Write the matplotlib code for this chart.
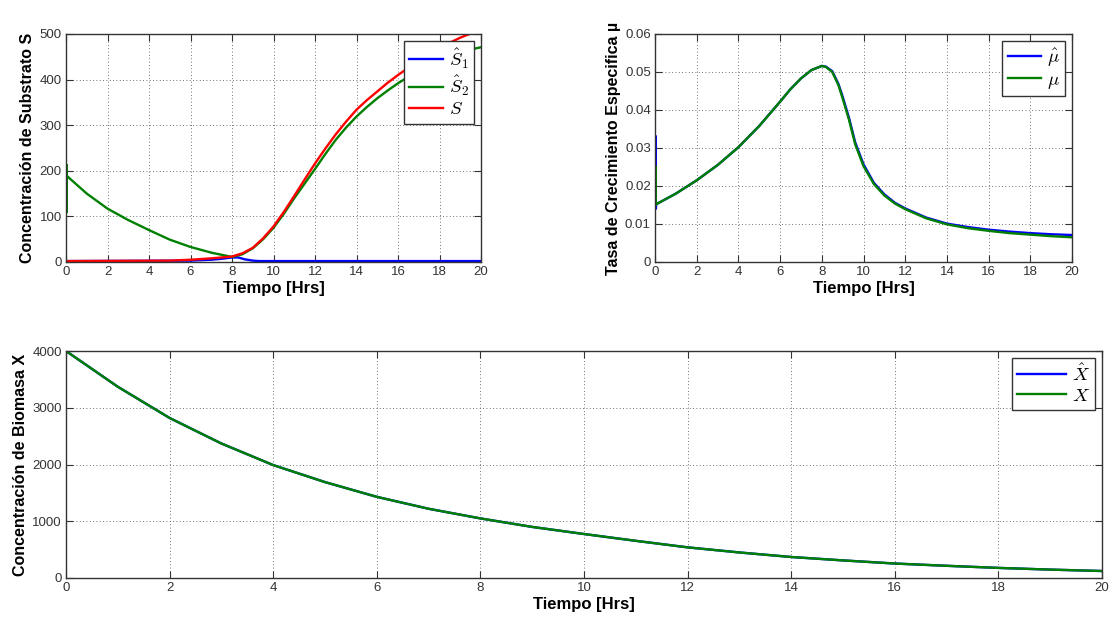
import numpy as np
import matplotlib
matplotlib.use("Agg")
import matplotlib.pyplot as plt

plt.rcParams['font.family'] = ['Liberation Sans', 'DejaVu Sans']
plt.rcParams['mathtext.fontset'] = 'cm'

# ---- data ----
# substrate estimates
t_s1 = [0, 6, 7, 7.5, 8, 8.3, 8.6, 9, 9.3, 20]
s1_hat = [2, 3, 5, 7, 10, 10, 6, 3, 2, 2]

t_s2 = [0.04, 0.04, 0.04, 0.06, 1, 2, 3, 4, 5, 6, 7, 8, 8.5, 9, 9.5, 10, 10.5, 11, 11.5, 12,
        12.5, 13, 13.5, 14, 14.5, 15, 15.5, 16, 16.5, 17, 17.5, 18, 18.5, 19, 19.5, 20]
s2_hat = [110, 212, 190, 188, 150, 117, 92, 70, 49, 33, 20.5, 11, 17, 30, 50, 75, 106, 140, 172, 204,
          237, 268, 295, 319, 340, 359, 376, 392, 406, 420, 432, 443, 452, 460, 466, 471]

t_s = [0, 5, 6, 7, 7.5, 8, 8.5, 9, 9.5, 10, 10.5, 11, 11.5, 12, 12.5, 13, 13.5, 14,
       14.5, 15, 15.5, 16, 16.5, 17, 17.5, 18, 18.5, 19, 19.5, 20]
s_real = [2, 3, 5, 8, 10, 12, 19, 31, 52, 78, 110, 145, 181, 216, 249, 280, 308, 334,
          355, 374, 393, 410, 426, 441, 455, 469, 481, 492, 501, 510]

# specific growth rate
t_mu = [0.04, 0.04, 0.06, 1, 2, 3, 4, 5, 6, 6.5, 7, 7.5, 8, 8.2, 8.5, 8.8, 9.0, 9.3, 9.6, 10,
        10.5, 11, 11.5, 12, 13, 14, 15, 16, 17, 18, 19, 20]
mu_hat = [0.033, 0.014, 0.0152, 0.018, 0.0215, 0.0255, 0.0302, 0.0358, 0.0422, 0.0455, 0.0483, 0.0505,
          0.0516, 0.0514, 0.0502, 0.0468, 0.0435, 0.038, 0.0315, 0.0257,
          0.0208, 0.0178, 0.0156, 0.0141, 0.0117, 0.0101, 0.0092, 0.0085, 0.0080, 0.0076, 0.0073, 0.0071]
mu_real = [0.025, 0.015, 0.0152, 0.018, 0.0215, 0.0255, 0.0302, 0.0358, 0.0422, 0.0455, 0.0483, 0.0505,
           0.0516, 0.0513, 0.0500, 0.0465, 0.0430, 0.0375, 0.031, 0.0252,
           0.0205, 0.0175, 0.0154, 0.0139, 0.0115, 0.0099, 0.0089, 0.0082, 0.0076, 0.0072, 0.0068, 0.0065]

# biomass
t_x = [0, 1, 2, 3, 4, 5, 6, 7, 8, 9, 10, 11, 12, 13, 14, 15, 16, 17, 18, 19, 20]
x_hat = [4000, 3370, 2820, 2370, 1990, 1690, 1430, 1220, 1050, 900, 775, 655, 540, 450, 370, 310, 255, 215, 178, 148, 123]
x_real = x_hat

xticks = [0, 2, 4, 6, 8, 10, 12, 14, 16, 18, 20]

BLUE = (0, 0, 1)
GREEN = (0, 0.5, 0)
RED = (1, 0, 0)

fig = plt.figure(figsize=(11.13, 6.25), dpi=100)


def style(ax, ylim, yticks, ylabel):
    ax.set_xlim(0, 20)
    ax.set_ylim(*ylim)
    ax.set_xticks(xticks)
    ax.set_yticks(yticks)
    ax.grid(True, linestyle=(0, (1, 3)), color='#444444', linewidth=0.6)
    ax.tick_params(direction='in', top=True, right=True, length=5, width=0.8,
                   labelsize=9.5, colors='#333333', pad=3)
    for sp in ax.spines.values():
        sp.set_color('#333333')
        sp.set_linewidth(1.0)
    ax.set_xlabel('Tiempo [Hrs]', fontsize=12, fontweight='bold', labelpad=2)
    ax.set_ylabel(ylabel, fontsize=11.5, fontweight='bold', labelpad=3)


def legend(ax, hl):
    lg = ax.legend(loc='upper right', fancybox=False, edgecolor='#333333', fontsize=13.5,
                   handlelength=hl, handletextpad=0.3, borderaxespad=0.35,
                   borderpad=0.3, labelspacing=0.15, framealpha=1)
    lg.get_frame().set_linewidth(1.0)


# top left: substrate
ax1 = fig.add_axes([0.0593, 0.5808, 0.3729, 0.3648])
ax1.plot(t_s1, s1_hat, color=BLUE, lw=1.7, label=r'$\hat{S}_1$')
ax1.plot(t_s2, s2_hat, color=GREEN, lw=1.7, label=r'$\hat{S}_2$')
ax1.plot(t_s, s_real, color=RED, lw=1.7, label=r'$S$')
style(ax1, (0, 500), [0, 100, 200, 300, 400, 500], 'Concentración de Substrato S')
legend(ax1, 1.8)

# top right: growth rate
ax2 = fig.add_axes([0.5885, 0.5808, 0.3747, 0.3648])
ax2.plot(t_mu, mu_hat, color=BLUE, lw=1.7, label=r'$\hat{\mu}$')
ax2.plot(t_mu, mu_real, color=GREEN, lw=1.7, label=r'$\mu$')
style(ax2, (0, 0.06), [0, 0.01, 0.02, 0.03, 0.04, 0.05, 0.06], 'Tasa de Crecimiento Especifica µ')
ax2.set_yticklabels(['0', '0.01', '0.02', '0.03', '0.04', '0.05', '0.06'])
legend(ax2, 1.8)

# bottom: biomass
ax3 = fig.add_axes([0.0593, 0.0752, 0.9308, 0.3632])
ax3.plot(t_x, x_hat, color=BLUE, lw=1.7, label=r'$\hat{X}$')
ax3.plot(t_x, x_real, color=GREEN, lw=1.7, label=r'$X$')
style(ax3, (0, 4000), [0, 1000, 2000, 3000, 4000], 'Concentración de Biomasa X')
legend(ax3, 2.6)

fig.savefig('out.png', dpi=100)
